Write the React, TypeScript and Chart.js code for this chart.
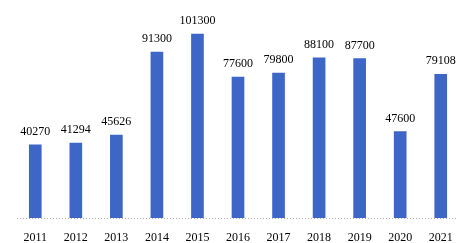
import React, { useEffect, useRef } from "react";
import { Chart, registerables } from "chart.js";

Chart.register(...registerables);

const categories = ["2011", "2012", "2013", "2014", "2015", "2016", "2017", "2018", "2019", "2020", "2021"];
const values = [40270, 41294, 45626, 91300, 101300, 77600, 79800, 88100, 87700, 47600, 79108];

const FONT = "'Liberation Serif', 'Times New Roman', serif";

const valueLabels = {
  id: "valueLabels",
  afterDatasetsDraw(chart: any) {
    const ctx = chart.ctx;
    const meta = chart.getDatasetMeta(0);
    ctx.save();
    ctx.font = `12px ${FONT}`;
    ctx.fillStyle = "#000";
    ctx.textAlign = "center";
    ctx.textBaseline = "middle";
    meta.data.forEach((bar: any, i: number) => {
      ctx.fillText(String(chart.data.datasets[0].data[i]), bar.x, bar.y - 13);
    });
    ctx.restore();
  },
};

const baseline = {
  id: "baseline",
  afterDatasetsDraw(chart: any) {
    const { ctx, chartArea } = chart;
    ctx.save();
    ctx.strokeStyle = "#b0b0b0";
    ctx.lineWidth = 1;
    ctx.setLineDash([1, 2]);
    ctx.beginPath();
    ctx.moveTo(chartArea.left + 2, chartArea.bottom + 0.5);
    ctx.lineTo(chartArea.right - 5, chartArea.bottom + 0.5);
    ctx.stroke();
    ctx.restore();
  },
};

export default function App() {
  const ref = useRef<HTMLCanvasElement>(null);
  useEffect(() => {
    document.body.style.margin = "0";
    const chart = new Chart(ref.current!, {
      type: "bar",
      data: {
        labels: categories,
        datasets: [
          {
            data: values,
            backgroundColor: "#3D66C6",
            barThickness: 12,
          },
        ],
      },
      options: {
        animation: false,
        responsive: false,
        maintainAspectRatio: false,
        layout: { padding: { left: 15, right: 15, top: 0, bottom: 0 } },
        plugins: { legend: { display: false }, tooltip: { enabled: false } },
        scales: {
          x: {
            grid: { display: false, drawTicks: false },
            border: { display: false },
            ticks: { font: { family: FONT, size: 12 }, color: "#000", padding: 13 },
            afterFit: (scale: any) => {
              scale.height = 25;
            },
          },
          y: {
            display: false,
            min: 0,
            max: 120000,
          },
        },
      },
      plugins: [valueLabels, baseline],
    });
    return () => chart.destroy();
  }, []);
  return <canvas ref={ref} width={476} height={243} style={{ display: "block" }} />;
}
